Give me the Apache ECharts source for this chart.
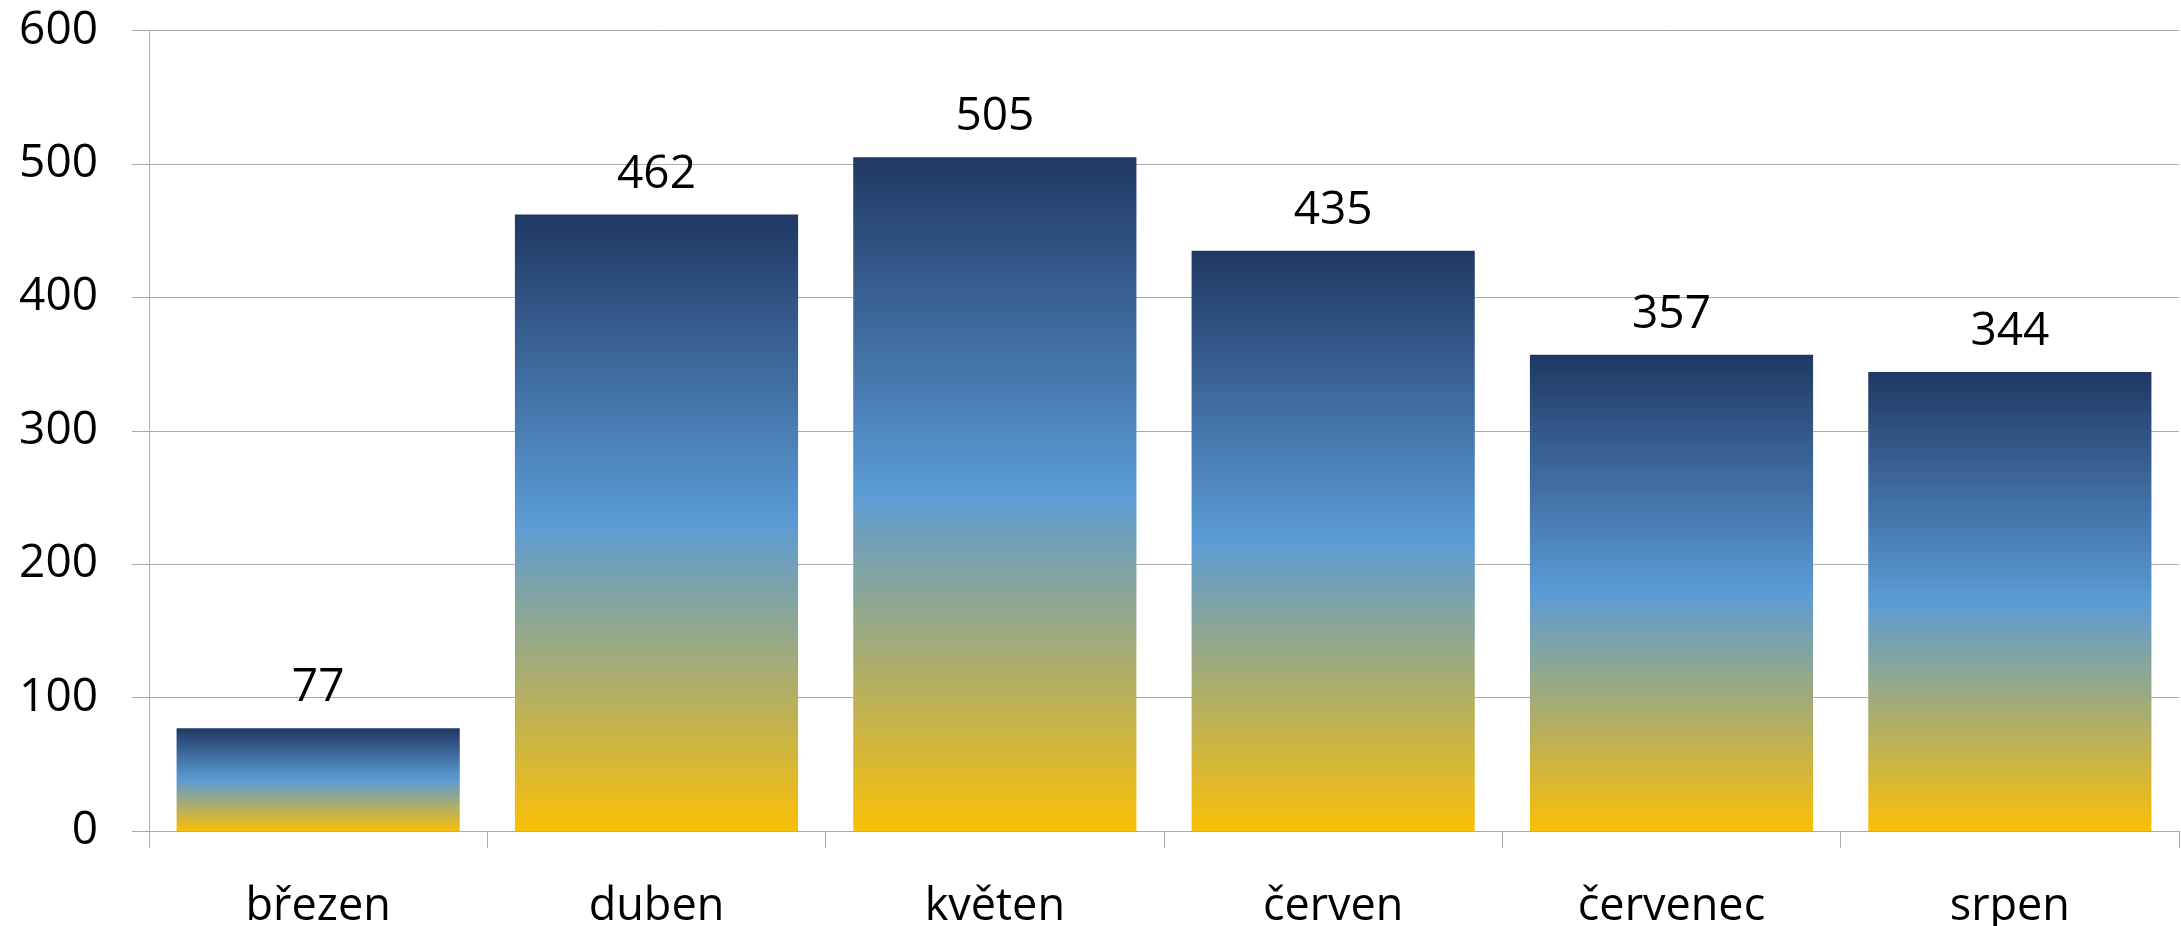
<!DOCTYPE html>
<html>
<head>
<meta charset="utf-8">
<script src="https://cdn.jsdelivr.net/npm/echarts@6/dist/echarts.min.js"></script>
<style>
html,body{margin:0;padding:0;background:#fff;}
#chart{width:2181px;height:926px;}
</style>
</head>
<body>
<div id="chart"></div>
<script>
const categories = ['březen', 'duben', 'květen', 'červen', 'červenec', 'srpen'];
const values = [77, 462, 505, 435, 357, 344];
const yTicks = [0, 100, 200, 300, 400, 500, 600];

const gridColor = '#ABABAB';
const font = "'Open Sans', 'DejaVu Sans', sans-serif";

const chart = echarts.init(document.getElementById('chart'));
chart.setOption({
  animation: false,
  backgroundColor: '#ffffff',
  grid: { left: 149, right: 2, top: 30.5, bottom: 95, containLabel: false, outerBoundsMode: 'none' },
  xAxis: {
    type: 'category',
    data: categories,
    boundaryGap: true,
    axisLine: { show: true, lineStyle: { color: gridColor, width: 1 } },
    axisTick: { show: true, length: 17, alignWithLabel: false, interval: 0, lineStyle: { color: gridColor, width: 1 } },
    axisLabel: { color: '#000', fontFamily: font, fontSize: 45, margin: 54, interval: 0 },
    splitLine: { show: false }
  },
  yAxis: {
    type: 'value',
    min: yTicks[0],
    max: yTicks[yTicks.length - 1],
    interval: 100,
    axisLine: { show: true, lineStyle: { color: gridColor, width: 1 } },
    axisTick: { show: true, length: 17, lineStyle: { color: gridColor, width: 1 } },
    axisLabel: { color: '#000', fontFamily: font, fontSize: 46, margin: 51 },
    splitLine: { show: true, lineStyle: { color: gridColor, width: 1 } }
  },
  series: [{
    type: 'bar',
    data: values,
    barWidth: '83.7%',
    itemStyle: {
      color: new echarts.graphic.LinearGradient(0, 0, 0, 1, [
        { offset: 0, color: '#203864' },
        { offset: 0.5, color: '#5B9BD5' },
        { offset: 1, color: '#FABF07' }
      ])
    },
    label: {
      show: true,
      position: 'top',
      distance: 17,
      color: '#000',
      fontFamily: font,
      fontSize: 46
    }
  }]
});
</script>
</body>
</html>
